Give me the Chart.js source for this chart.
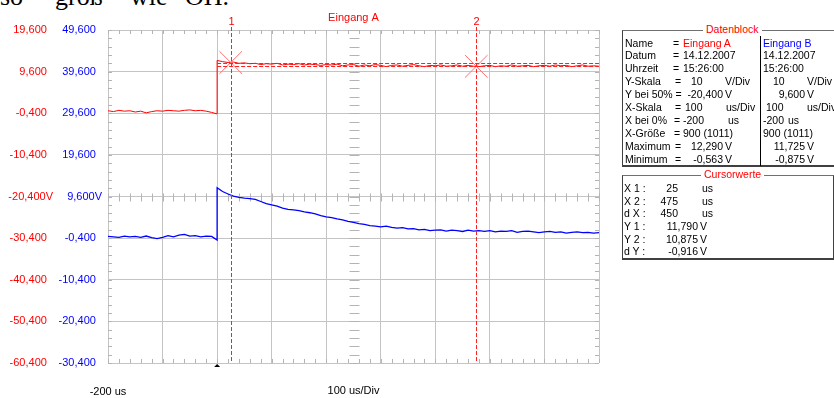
<!DOCTYPE html>
<html lang="de">
<head>
<meta charset="utf-8">
<title>Eingang A / Eingang B</title>
<script src="https://cdn.jsdelivr.net/npm/chart.js"></script>
<style>
  body { margin: 0; width: 834px; height: 398px; overflow: hidden; background: #fff; position: relative;
         font-family: "Liberation Sans", Arial, sans-serif; }
  #plot { position: absolute; left: 0; top: 0; width: 834px; height: 398px; }
  .kopf { position: absolute; top: -16px; font: 26px/26px "Liberation Serif", serif; color: #000; white-space: pre; }
  .box { position: absolute; border-top: 1px solid #707070; border-left: 1px solid #404040;
         border-right: 1px solid #404040; border-bottom: 2px solid #404040; }
  .t { position: absolute; font-size: 10.5px; line-height: 13px; white-space: pre; color: #000; }
  .r { text-align: right; }
  .rot { color: #ff0000; }
  .blau { color: #0000ff; }
  .kt { background: #fff; padding: 0 3px; }
</style>
</head>
<body>
<div class="kopf" style="left:0">so</div>
<div class="kopf" style="left:55px">groß</div>
<div class="kopf" style="left:130px">wie</div>
<div class="kopf" style="left:185px">OH.</div>

<div id="plot"><canvas id="scope"></canvas></div>

<!-- Datenblock -->
<div class="box" style="left:622px; top:30px; width:217px; height:134px;"></div>
<div style="position:absolute; left:760px; top:36px; width:1px; height:130px; background:#000;"></div>
<div class="t rot kt" style="left:703px; top:23px;">Datenblock</div>

<div class="t" style="left:625px; top:37px;">Name</div>
<div class="t" style="left:625px; top:49px;">Datum</div>
<div class="t" style="left:625px; top:62px;">Uhrzeit</div>
<div class="t" style="left:625px; top:75px;">Y-Skala</div>
<div class="t" style="left:625px; top:88px;">Y bei 50% =</div>
<div class="t" style="left:625px; top:101px;">X-Skala</div>
<div class="t" style="left:625px; top:114px;">X bei 0%</div>
<div class="t" style="left:625px; top:127px;">X-Größe</div>
<div class="t" style="left:625px; top:140px;">Maximum</div>
<div class="t" style="left:625px; top:153px;">Minimum</div>

<div class="t" style="left:673px; top:37px;">=</div>
<div class="t" style="left:673px; top:49px;">=</div>
<div class="t" style="left:673px; top:62px;">=</div>
<div class="t" style="left:675px; top:75px;">=</div>
<div class="t" style="left:675px; top:101px;">=</div>
<div class="t" style="left:674px; top:114px;">=</div>
<div class="t" style="left:674px; top:127px;">=</div>
<div class="t" style="left:675px; top:140px;">=</div>
<div class="t" style="left:675px; top:153px;">=</div>

<div class="t rot" style="left:683px; top:37px;">Eingang A</div>
<div class="t" style="left:683px; top:49px;">14.12.2007</div>
<div class="t" style="left:683px; top:62px;">15:26:00</div>
<div class="t" style="left:691px; top:75px;">10</div>
<div class="t" style="left:725px; top:75px;">V/Div</div>
<div class="t r" style="left:673px; width:50px; top:88px;">-20,400</div>
<div class="t" style="left:725px; top:88px;">V</div>
<div class="t" style="left:685px; top:101px;">100</div>
<div class="t" style="left:726px; top:101px;">us/Div</div>
<div class="t" style="left:683px; top:114px;">-200</div>
<div class="t" style="left:728px; top:114px;">us</div>
<div class="t" style="left:683px; top:127px;">900 (1011)</div>
<div class="t r" style="left:673px; width:50px; top:140px;">12,290</div>
<div class="t" style="left:725px; top:140px;">V</div>
<div class="t r" style="left:673px; width:50px; top:153px;">-0,563</div>
<div class="t" style="left:725px; top:153px;">V</div>

<div class="t blau" style="left:763px; top:37px;">Eingang B</div>
<div class="t" style="left:763px; top:49px;">14.12.2007</div>
<div class="t" style="left:763px; top:62px;">15:26:00</div>
<div class="t" style="left:773px; top:75px;">10</div>
<div class="t" style="left:807px; top:75px;">V/Div</div>
<div class="t r" style="left:755px; width:50px; top:88px;">9,600</div>
<div class="t" style="left:807px; top:88px;">V</div>
<div class="t" style="left:766px; top:101px;">100</div>
<div class="t" style="left:807px; top:101px;">us/Div</div>
<div class="t" style="left:763px; top:114px;">-200</div>
<div class="t" style="left:788px; top:114px;">us</div>
<div class="t" style="left:763px; top:127px;">900 (1011)</div>
<div class="t r" style="left:755px; width:50px; top:140px;">11,725</div>
<div class="t" style="left:807px; top:140px;">V</div>
<div class="t r" style="left:755px; width:50px; top:153px;">-0,875</div>
<div class="t" style="left:807px; top:153px;">V</div>

<!-- Cursorwerte -->
<div class="box" style="left:622px; top:175px; width:210px; height:82px;"></div>
<div class="t rot kt" style="left:701px; top:168px;">Cursorwerte</div>

<div class="t" style="left:624px; top:182px;">X 1 :</div>
<div class="t" style="left:624px; top:195px;">X 2 :</div>
<div class="t" style="left:624px; top:207px;">d X :</div>
<div class="t" style="left:624px; top:220px;">Y 1 :</div>
<div class="t" style="left:624px; top:233px;">Y 2 :</div>
<div class="t" style="left:624px; top:245px;">d Y :</div>

<div class="t r" style="left:638px; width:40px; top:182px;">25</div>
<div class="t r" style="left:638px; width:40px; top:195px;">475</div>
<div class="t r" style="left:638px; width:40px; top:207px;">450</div>
<div class="t" style="left:702px; top:182px;">us</div>
<div class="t" style="left:702px; top:195px;">us</div>
<div class="t" style="left:702px; top:207px;">us</div>
<div class="t r" style="left:648px; width:50px; top:220px;">11,790</div>
<div class="t r" style="left:648px; width:50px; top:233px;">10,875</div>
<div class="t r" style="left:648px; width:50px; top:245px;">-0,916</div>
<div class="t" style="left:700px; top:220px;">V</div>
<div class="t" style="left:700px; top:233px;">V</div>
<div class="t" style="left:700px; top:245px;">V</div>

<script>
// Zeitachse in us (Sprung bei 0 us doppelt)
const timeUs = [-200, -190, -180, -170, -160, -150, -140, -130, -120, -110,
    -100, -90, -80, -70, -60, -50, -40, -30, -20, -10, 0, 0,
    10, 20, 30, 40, 50, 60, 70, 80, 90, 100,
    110, 120, 130, 140, 150, 160, 170, 180, 190, 200,
    210, 220, 230, 240, 250, 260, 270, 280, 290, 300,
    310, 320, 330, 340, 350, 360, 370, 380, 390, 400,
    410, 420, 430, 440, 450, 460, 470, 480, 490, 500,
    510, 520, 530, 540, 550, 560, 570, 580, 590, 600,
    610, 620, 630, 640, 650, 660, 670, 680, 690, 700];

// Eingang A (V)
const eingangA = [0.2, 0.0, 0.3, 0.1, 0.2, -0.1, 0.1, -0.3, 0.0, 0.2,
    0.1, 0.3, 0.2, 0.1, 0.3, 0.4, 0.2, 0.3, 0.1, -0.2, -0.56, 12.29,
    12.0, 11.8, 11.9, 11.6, 11.7, 11.5, 11.6, 11.3, 11.5, 11.4,
    11.6, 11.2, 11.4, 11.3, 11.5, 11.2, 11.4, 11.3, 11.1, 11.3,
    11.2, 11.4, 11.0, 11.2, 11.3, 10.9, 11.2, 11.0, 11.3, 11.1,
    10.8, 11.1, 11.2, 10.9, 11.1, 11.3, 11.0, 10.8, 11.1, 11.0,
    11.2, 10.9, 11.0, 11.2, 10.9, 11.1, 10.9, 10.8, 11.0, 11.1,
    10.8, 11.0, 10.9, 11.2, 10.9, 11.0, 11.1, 10.8, 11.0, 11.1,
    10.9, 11.2, 11.0, 11.1, 10.8, 11.0, 11.2, 10.9, 11.0, 10.9];

// Eingang B (V)
const eingangB = [0.0, -0.1, -0.2, 0.1, -0.1, 0.0, -0.2, 0.1, -0.3, -0.5,
    -0.2, 0.2, -0.1, 0.3, 0.5, 0.1, 0.2, -0.1, 0.1, 0.0, -0.88, 11.7,
    10.8, 10.2, 9.7, 9.4, 9.2, 9.1, 8.9, 8.4, 7.9, 7.6,
    7.3, 6.8, 6.5, 6.4, 6.2, 5.9, 5.7, 5.4, 5.0, 4.7,
    4.5, 4.2, 4.0, 3.6, 3.4, 3.1, 2.9, 2.6, 2.5, 2.3,
    2.5, 2.2, 2.0, 2.1, 1.8, 1.9, 1.6, 1.7, 1.4, 1.5,
    1.6, 1.3, 1.5, 1.4, 1.2, 1.5, 1.3, 1.4, 1.2, 1.4,
    1.1, 1.3, 1.2, 1.4, 1.0, 1.2, 1.3, 1.1, 0.9, 1.1,
    1.2, 1.0, 1.1, 0.8, 1.0, 1.1, 0.9, 1.0, 0.8, 0.9];

const ticksX = [-200, -100, 0, 100, 200, 300, 400, 500, 600, 700];
const ticksA = [19.6, 9.6, -0.4, -10.4, -20.4, -30.4, -40.4, -50.4, -60.4];
const ticksB = [49.6, 39.6, 29.6, 19.6, 9.6, -0.4, -10.4, -20.4, -30.4];
const bei50A = -20.4;
const bei50B = 9.6;

// Cursor 1 und 2
const cursorX = [25, 475];
const cursorY = [11.79, 10.875];

const schrift = { family: '"Liberation Sans", Arial, sans-serif', size: 11 };

function fmt(v) {
    return v.toFixed(3).replace('.', ',');
}

function punkte(werte) {
    return timeUs.map((t, i) => ({ x: t, y: werte[i] }));
}

function yLabel(v, ref) {
    return fmt(v) + (Math.abs(v - ref) < 1e-6 ? 'V' : '  ');
}

// Raster-Teilstriche, Cursorlinien, Triggermarke
const scopeDeko = {
    id: 'scopeDeko',
    beforeDatasetsDraw(chart) {
        const { ctx, chartArea: a, scales: { x, yA } } = chart;
        const xMid = Math.round((a.left + a.right) / 2) + 0.5;
        const yMid = Math.round(yA.getPixelForValue(bei50A)) + 0.5;
        ctx.save();
        ctx.strokeStyle = '#b4b4b4';
        ctx.lineWidth = 1;
        ctx.beginPath();
        for (let t = x.min; t <= x.max; t += 20) {
            const px = Math.round(x.getPixelForValue(t)) + 0.5;
            ctx.moveTo(px, a.top); ctx.lineTo(px, a.top + 4);
            ctx.moveTo(px, a.bottom); ctx.lineTo(px, a.bottom - 4);
            ctx.moveTo(px, yMid - 4); ctx.lineTo(px, yMid + 4);
        }
        for (let v = yA.min; v <= yA.max + 0.01; v += 2) {
            const py = Math.round(yA.getPixelForValue(v)) + 0.5;
            ctx.moveTo(a.left, py); ctx.lineTo(a.left + 4, py);
            ctx.moveTo(a.right, py); ctx.lineTo(a.right - 4, py);
            ctx.moveTo(xMid - 5, py); ctx.lineTo(xMid + 5, py);
        }
        ctx.stroke();
        ctx.restore();
    },
    afterDatasetsDraw(chart) {
        const { ctx, chartArea: a, scales: { x, yA } } = chart;
        ctx.save();
        ctx.strokeStyle = '#ff2020';
        ctx.fillStyle = '#ff0000';
        ctx.lineWidth = 1;
        ctx.setLineDash([4, 2]);
        ctx.font = '11px "Liberation Sans", Arial, sans-serif';
        ctx.textAlign = 'center';
        ctx.textBaseline = 'middle';
        cursorX.forEach((c, i) => {
            const px = Math.round(x.getPixelForValue(c)) + 0.5;
            ctx.beginPath();
            ctx.moveTo(px, a.top - 3);
            ctx.lineTo(px, a.bottom);
            ctx.stroke();
            ctx.fillText(String(i + 1), px, a.top - 8);
        });
        const x0 = x.getPixelForValue(0);
        cursorY.forEach(c => {
            const py = Math.round(yA.getPixelForValue(c)) + 0.5;
            ctx.beginPath();
            ctx.moveTo(x0, py);
            ctx.lineTo(a.right, py);
            ctx.stroke();
        });
        ctx.setLineDash([]);
        ctx.fillStyle = '#000';
        ctx.beginPath();
        ctx.moveTo(x0, a.bottom + 1);
        ctx.lineTo(x0 - 3, a.bottom + 4);
        ctx.lineTo(x0 + 3, a.bottom + 4);
        ctx.closePath();
        ctx.fill();
        ctx.restore();
    }
};

new Chart(document.getElementById('scope'), {
    type: 'line',
    data: {
        datasets: [{
            label: 'Cursor',
            data: cursorX.map((c, i) => ({ x: c, y: cursorY[i] })),
            yAxisID: 'yA',
            showLine: false,
            pointStyle: 'crossRot',
            pointRadius: 16,
            pointBorderColor: '#ff7070',
            pointBorderWidth: 1
        }, {
            label: 'Eingang A',
            data: punkte(eingangA),
            yAxisID: 'yA',
            borderColor: '#ff0000',
            borderWidth: 1,
            pointRadius: 0
        }, {
            label: 'Eingang B',
            data: punkte(eingangB),
            yAxisID: 'yB',
            borderColor: '#0000ff',
            borderWidth: 1.3,
            pointRadius: 0
        }]
    },
    options: {
        responsive: true,
        maintainAspectRatio: false,
        animation: false,
        events: [],
        layout: { padding: { left: 0, right: 235, top: 0, bottom: 0 } },
        plugins: {
            legend: { display: false },
            tooltip: { enabled: false },
            title: {
                display: true,
                text: 'Eingang A',
                color: '#ff0000',
                fullSize: false,
                font: { family: schrift.family, size: 11, weight: 'normal', lineHeight: '13px' },
                padding: { top: 11, bottom: 6 }
            }
        },
        scales: {
            x: {
                type: 'linear',
                min: -200,
                max: 700,
                afterBuildTicks: s => { s.ticks = ticksX.map(v => ({ value: v })); },
                afterFit: s => { s.height = 35; },
                grid: { color: '#c4c4c4', drawTicks: false },
                border: { display: false },
                ticks: {
                    autoSkip: false,
                    maxRotation: 0,
                    padding: 22,
                    color: '#000',
                    font: schrift,
                    callback: v => (v === ticksX[0] ? '-200 us' : '')
                },
                title: { display: true, text: '100 us/Div', color: '#000', font: schrift, padding: 0 }
            },
            yA: {
                position: 'left',
                weight: 1,
                min: -60.4,
                max: 19.6,
                afterBuildTicks: s => { s.ticks = ticksA.map(v => ({ value: v })); },
                afterFit: s => { s.width = 54; },
                grid: { color: '#c4c4c4', drawTicks: false },
                border: { display: false },
                ticks: { padding: 1, color: '#ff0000', font: schrift, callback: v => yLabel(v, bei50A) }
            },
            yB: {
                position: 'left',
                weight: 0,
                min: -30.4,
                max: 49.6,
                afterBuildTicks: s => { s.ticks = ticksB.map(v => ({ value: v })); },
                afterFit: s => { s.width = 54; },
                grid: { display: false, drawTicks: false },
                border: { display: false },
                ticks: { padding: 6, color: '#0000ff', font: schrift, callback: v => yLabel(v, bei50B) }
            }
        }
    },
    plugins: [scopeDeko]
});
</script>
</body>
</html>
